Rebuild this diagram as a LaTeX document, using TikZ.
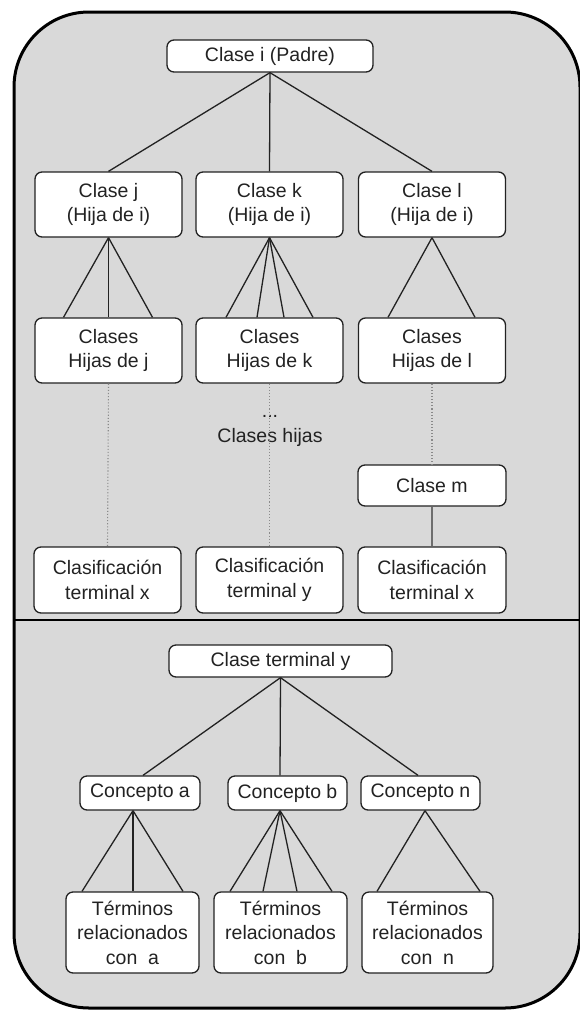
\documentclass[tikz,border=0pt]{standalone}
\usepackage{fontspec}
\setmainfont{Liberation Sans}
\usetikzlibrary{calc}
\definecolor{panel}{HTML}{D9D9D9}
\definecolor{ink}{HTML}{222222}
\definecolor{dotc}{HTML}{8A8A8A}
\tikzset{
  box/.style={draw=ink, fill=white, rounded corners=7pt, line width=1.3pt, align=center, inner sep=0pt,
     font=\fontsize{19.5}{24.5}\selectfont, text=ink},
  wide/.style={box, minimum width=147pt, minimum height=65pt},
  link/.style={draw=ink, line width=1.3pt},
  dotlink/.style={draw=dotc, line width=1.1pt, dotted},
  graylink/.style={draw=dotc!80!black, line width=1.6pt},
  lbl/.style={align=center, inner sep=0pt, font=\fontsize{19.5}{24.5}\selectfont, text=ink}
}
\begin{document}
\begin{tikzpicture}[x=1pt,y=-1pt]
\useasboundingbox (0,0) rectangle (579,1010);
% outer panel
\draw[fill=panel, line width=3pt, draw=black, rounded corners=75pt] (14,12) rectangle (580,1008);
\draw[line width=2.2pt, draw=black] (14,620) -- (580,620);

% upper part
\node[box, minimum width=206pt, minimum height=32pt] (pI) at (270,56) {Clase i (Padre)};
\node[wide] (cj) at (108.5,204.5) {Clase j\\(Hija de i)};
\node[wide] (ck) at (269.5,204.5) {Clase k\\(Hija de i)};
\node[wide] (cl) at (432,204.5) {Clase l\\(Hija de i)};
\node[wide] (hj) at (108.5,350.5) {Clases\\Hijas de j};
\node[wide] (hk) at (269.5,350.5) {Clases\\Hijas de k};
\node[wide] (hl) at (432,350.5) {Clases\\Hijas de l};
\node[box, minimum width=148pt, minimum height=41pt] (cm) at (432,485.5) {Clase m};
\node[wide, minimum height=66pt] (tx1) at (107.5,580) {Clasificación\\terminal x};
\node[wide, minimum height=66pt] (ty) at (269.5,580) {Clasificación\\terminal y};
\node[wide, minimum width=148pt, minimum height=66pt] (tx2) at (432,580) {Clasificación\\terminal x};

\draw[link] (pI.south) -- (cj.north);
\draw[link] (pI.south) -- (ck.north);
\draw[link] (pI.south) -- (cl.north);

\draw[link] (cj.south) -- ($(hj.north)+(-45,0)$);
\draw[link] (cj.south) -- (hj.north);
\draw[link] (cj.south) -- ($(hj.north)+(44,0)$);

\draw[link] (ck.south) -- ($(hk.north)+(-43.5,0)$);
\draw[link] (ck.south) -- ($(hk.north)+(-12.5,0)$);
\draw[link] (ck.south) -- ($(hk.north)+(14.5,0)$);
\draw[link] (ck.south) -- ($(hk.north)+(43.5,0)$);

\draw[link] (cl.south) -- ($(hl.north)+(-44,0)$);
\draw[link] (cl.south) -- ($(hl.north)+(43,0)$);

\node[lbl] (dots) at (270,431) {...\\Clases hijas};

\draw[dotlink] (hj.south) -- (tx1.north);
\draw[dotlink] (hk.south) -- (ty.north);
\draw[dotlink] (hl.south) -- (cm.north);
\draw[graylink] (cm.south) -- (tx2.north);

% lower part
\node[box, minimum width=223pt, minimum height=32pt] (ctY) at (280.5,661) {Clase terminal y};
\node[box, minimum width=120pt, minimum height=34pt] (ca) at (140,793) {Concepto a};
\node[box, minimum width=119pt, minimum height=34pt] (cb) at (287.5,793) {Concepto b};
\node[box, minimum width=119pt, minimum height=34pt] (cn) at (420.5,793) {Concepto n};
\node[box, minimum width=133pt, minimum height=81pt] (ta) at (132.5,932.5) {Términos\\relacionados\\con\ \ a};
\node[box, minimum width=133pt, minimum height=81pt] (tb) at (280.5,932.5) {Términos\\relacionados\\con\ \ b};
\node[box, minimum width=131pt, minimum height=81pt] (tn) at (427.5,932.5) {Términos\\relacionados\\con\ \ n};

\draw[link] (ctY.south) -- ($(ca.north)+(3,0)$);
\draw[link] (ctY.south) -- ($(cb.north)+(-7.5,0)$);
\draw[link] (ctY.south) -- ($(cn.north)+(-2.5,0)$);

\draw[link] ($(ca.south)+(-7,0)$) -- ($(ta.north)+(-50.5,0)$);
\draw[link] ($(ca.south)+(-7,0)$) -- ($(ta.north)+(0.5,0)$);
\draw[link] ($(ca.south)+(-7,0)$) -- ($(ta.north)+(50.5,0)$);

\draw[link] ($(cb.south)+(-7.5,0)$) -- ($(tb.north)+(-50.5,0)$);
\draw[link] ($(cb.south)+(-7.5,0)$) -- ($(tb.north)+(-17.5,0)$);
\draw[link] ($(cb.south)+(-7.5,0)$) -- ($(tb.north)+(16.5,0)$);
\draw[link] ($(cb.south)+(-7.5,0)$) -- ($(tb.north)+(51.5,0)$);

\draw[link] ($(cn.south)+(4.5,0)$) -- ($(tn.north)+(-50.5,0)$);
\draw[link] ($(cn.south)+(4.5,0)$) -- ($(tn.north)+(52.5,0)$);
\end{tikzpicture}
\end{document}
